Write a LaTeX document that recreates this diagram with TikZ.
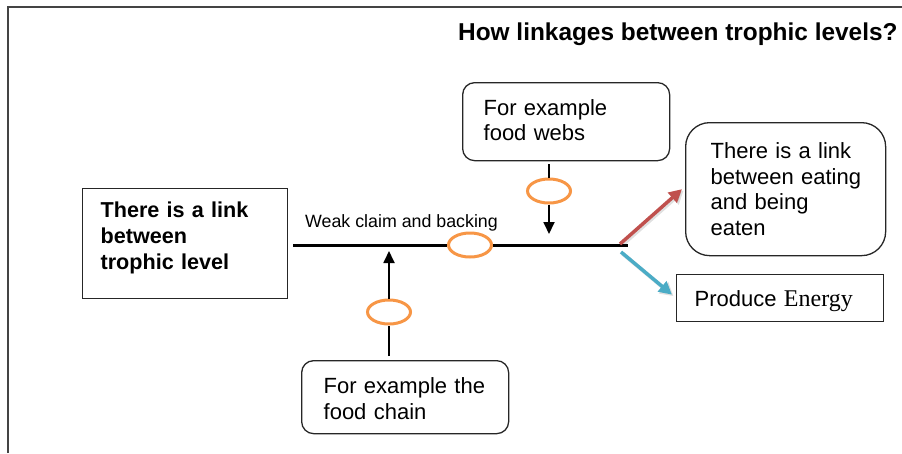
\documentclass[tikz,border=0pt]{standalone}
\usepackage{fontspec}
\setmainfont{Liberation Sans}
\newfontfamily\timesfont{Liberation Serif}
\usetikzlibrary{shapes.geometric,arrows.meta}
\definecolor{frameg}{HTML}{444444}
\definecolor{ovalor}{HTML}{F79646}
\definecolor{redarr}{HTML}{C0504D}
\definecolor{bluearr}{HTML}{4BACC6}
\tikzset{
  boxnode/.style={draw=black!85, line width=1.3pt, anchor=north west, inner ysep=0pt,
    align=left, font=\fontsize{22}{26}\selectfont},
  oval/.style={ellipse, draw=ovalor, line width=3pt, fill=white, minimum width=43pt,
    minimum height=24pt, inner sep=0pt},
  blackarr/.style={line width=1.8pt, -{Triangle[length=12pt,width=11pt]}},
  colarr/.style={line width=3.5pt, -{Triangle[length=13pt,width=13pt]}},
  shadowarr/.style={line width=4pt, black, opacity=0.12, -{Triangle[length=13pt,width=14pt]}}
}
\begin{document}
\begin{tikzpicture}[x=1pt,y=-1pt]
\useasboundingbox (0,0) rectangle (902,453);
% frame
\draw[frameg, line width=2.2pt] (8,453) -- (8,7) -- (902,7);
% title
\node[anchor=base west, inner sep=0pt, font=\bfseries\fontsize{24.4}{28}\selectfont] (title) at (458,40) {How linkages between trophic levels?};
% boxes
\node[boxnode, inner xsep=18pt, text width=169pt, text height=29pt, text depth=81pt,
  font=\bfseries\fontsize{21.6}{26}\selectfont] (lb) at (82,188)
  {\mbox{There is a link}\\\mbox{between}\\\mbox{trophic level}};
\node[boxnode, rounded corners=12pt, inner xsep=21pt, text width=165pt, text height=33pt, text depth=45pt,
  font=\fontsize{22}{25}\selectfont] (fw) at (462,82)
  {\mbox{For example}\\\mbox{food webs}};
\node[boxnode, rounded corners=24pt, inner xsep=25pt, text width=150pt, text height=36pt, text depth=97pt,
  font=\fontsize{22}{25.5}\selectfont] (rb) at (685,122)
  {\mbox{There is a link}\\\mbox{between eating}\\\mbox{and being}\\\mbox{eaten}};
\node[boxnode, inner xsep=18pt, text width=171pt, text height=32pt, text depth=15pt] (pe) at (676,274)
  {\mbox{Produce {\timesfont\fontsize{24}{26}\selectfont Energy}}};
\node[boxnode, rounded corners=12pt, inner xsep=22pt, text width=163pt, text height=33pt, text depth=40pt,
  font=\fontsize{22}{26}\selectfont] (fc) at (301,360)
  {\mbox{For example the}\\\mbox{food chain}};
% label
\node[anchor=base west, inner sep=0pt, font=\fontsize{17.8}{20}\selectfont] (wc) at (305,227) {Weak claim and backing};
% ovals
\node[oval] (e1) at (549,191) {};
\node[oval] (e2) at (470,245) {};
\node[oval] (e3) at (389,312) {};
% main line
\coordinate (ml0) at (293,245);
\coordinate (ml1) at (628,245);
\draw[line width=3pt] (ml0) -- (e2.west);
\draw[line width=3pt] (e2.east) -- (ml1);
% vertical arrows
\coordinate (t1) at (549,234);
\coordinate (t3) at (389,251);
\draw[line width=1.8pt] ([yshift=-3pt]fw.south -| e1.center) -- (e1.north);
\draw[blackarr] (e1.south) -- (t1);
\draw[line width=1.8pt] ([yshift=4pt]fc.north -| e3.center) -- (e3.south);
\draw[blackarr] (e3.north) -- (t3);
% coloured arrows
\coordinate (rs) at (620,244);
\coordinate (bs) at (621,252);
\draw[shadowarr] ([shift={(1.5pt,-1.5pt)}]rs) -- ([shift={(-1.5pt,-1.5pt)}]rb.west);
\draw[shadowarr] ([shift={(1.5pt,-1.5pt)}]bs) -- ([shift={(-2.5pt,2pt)}]pe.west);
\draw[colarr, redarr] (rs) -- ([xshift=-3pt]rb.west);
\draw[colarr, bluearr] (bs) -- ([shift={(-4pt,3.5pt)}]pe.west);
\end{tikzpicture}
\end{document}
